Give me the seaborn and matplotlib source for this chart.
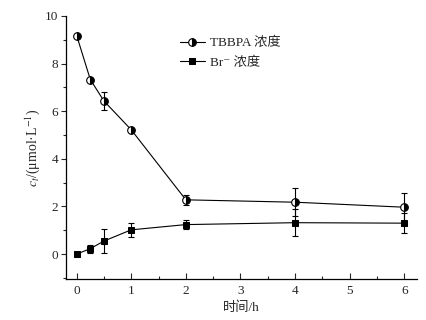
import matplotlib
matplotlib.use('Agg')
import numpy as np
import pandas as pd
import seaborn as sns
from matplotlib import pyplot as plt
from matplotlib.ticker import MultipleLocator

# data
time_h = [0, 0.25, 0.5, 1, 2, 4, 6]
tbbpa = [9.18, 7.33, 6.43, 5.22, 2.28, 2.18, 1.97]
tbbpa_err = [0, 0, 0.36, 0, 0.2, 0.6, 0.58]
br = [0.0, 0.23, 0.55, 1.02, 1.24, 1.32, 1.30]
br_err = [0, 0.17, 0.5, 0.3, 0.2, 0.57, 0.42]

df = pd.DataFrame({'t': time_h, 'tbbpa': tbbpa, 'br': br})

sns.set_style('ticks')
plt.rcParams['font.family'] = ['Liberation Serif', 'DejaVu Serif', 'Noto Sans CJK SC']
plt.rcParams['mathtext.fontset'] = 'stix'
fs = 9.5

fig = plt.figure(figsize=(4.27, 3.2), dpi=100)
ax = fig.add_axes([0.154, 0.127, 0.822, 0.823])

ax.errorbar(time_h, tbbpa, yerr=tbbpa_err, fmt='none', ecolor='black',
            elinewidth=0.8, capsize=2.5, capthick=0.8)
ax.errorbar(time_h, br, yerr=br_err, fmt='none', ecolor='black',
            elinewidth=0.8, capsize=2.5, capthick=0.8)

sns.lineplot(data=df, x='t', y='tbbpa', ax=ax, color='black', lw=0.8,
             marker='o', markersize=5.5, fillstyle='right',
             markerfacecolor='black', markerfacecoloralt='white',
             markeredgecolor='black', markeredgewidth=0.8,
             label='TBBPA 浓度')
sns.lineplot(data=df, x='t', y='br', ax=ax, color='black', lw=0.8,
             marker='s', markersize=5, markerfacecolor='black',
             markeredgecolor='black', label='Br⁻ 浓度')

ax.set_xlim(-0.2, 6.23)
ax.set_ylim(-1.06, 10)
ax.xaxis.set_major_locator(MultipleLocator(1))
ax.xaxis.set_minor_locator(MultipleLocator(0.5))
ax.yaxis.set_major_locator(MultipleLocator(2))
ax.yaxis.set_minor_locator(MultipleLocator(1))
ax.tick_params(axis='x', which='major', direction='in', length=4, width=0.8,
               labelsize=fs, pad=4)
ax.tick_params(axis='x', which='minor', direction='in', length=2.5, width=0.8)
ax.tick_params(axis='y', which='major', direction='out', length=3.5, width=0.8,
               labelsize=fs, pad=2)
ax.tick_params(axis='y', which='minor', direction='out', length=2, width=0.8)
for s in ['left', 'bottom']:
    ax.spines[s].set_linewidth(0.9)
    ax.spines[s].set_color('black')
for s in ['top', 'right']:
    ax.spines[s].set_visible(False)

ax.set_xlabel('时间/h', fontsize=fs, labelpad=3)
ax.set_ylabel('$c_t$/(μmol·L$^{-1}$)', fontsize=fs + 0.5, labelpad=2)

ax.legend(loc='upper left', bbox_to_anchor=(0.31, 0.94), frameon=False,
          fontsize=fs, handlelength=1.9, handletextpad=0.35,
          labelspacing=0.55, borderaxespad=0)

fig.savefig('out.png', dpi=100)
